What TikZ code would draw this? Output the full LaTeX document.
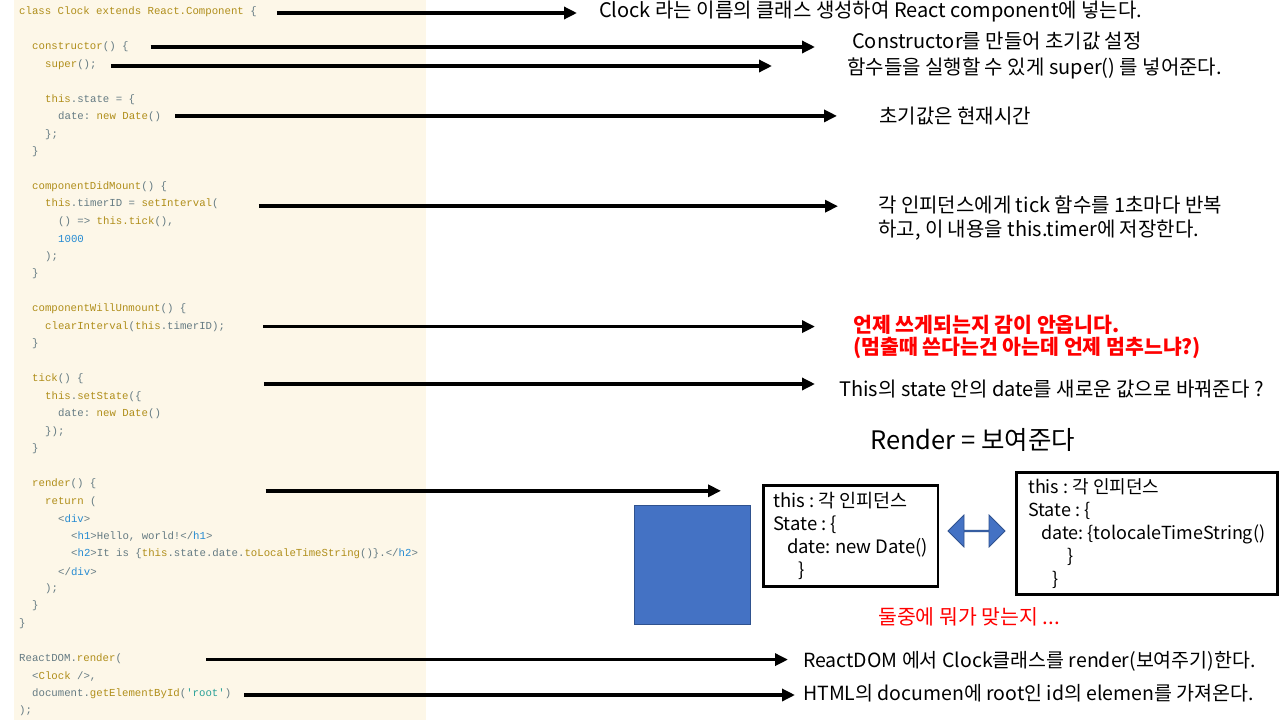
\documentclass[tikz,border=0pt]{standalone}
\usepackage{fontspec}
\setmonofont{Liberation Mono}
\newfontfamily\krfont{Noto Sans CJK KR}
\usetikzlibrary{positioning,calc,arrows.meta,shapes.arrows}

\definecolor{codebg}{HTML}{FDF7E8}
\definecolor{codegray}{HTML}{657B83}
\definecolor{codeolive}{HTML}{B08E1A}
\definecolor{codeblue}{HTML}{268BD2}
\definecolor{codecyan}{HTML}{2AA198}
\definecolor{officeblue}{HTML}{4472C4}
\definecolor{officeline}{HTML}{2F528F}

\newcommand{\kw}[1]{\textcolor{codeolive}{#1}}
\newcommand{\tg}[1]{\textcolor{codeblue}{#1}}
\newcommand{\str}[1]{\textcolor{codecyan}{#1}}

\tikzset{
  code/.style={anchor=west, inner sep=0pt, text=codegray,
    font=\ttfamily\fontsize{10.7}{12}\selectfont},
  note/.style={anchor=west, inner sep=0pt, align=left,
    font=\krfont\fontsize{20}{24}\selectfont},
  arr/.style={line width=3.5pt, -{Triangle[length=13pt,width=12pt]}},
  statebox/.style={draw, line width=2.5pt, anchor=north west, align=left},
}

\begin{document}
\begin{tikzpicture}[x=1pt,y=-1pt]

      \fill[white] (0,0) rectangle (1280,720);
      \useasboundingbox (0,0) rectangle (1280,720);
      \fill[codebg] (14,0) rectangle (426,720);

      % Code lines
      \node[code] (cls)    at (19,12)    {\kw{class Clock extends React.Component} \{};
      \node[code] (ctor)   at (32,47)    {\kw{constructor}() \{};
      \node[code] (sup)    at (45,64.4)  {\kw{super}();};
      \node[code] (state)  at (45,99.4)  {\kw{this}.state = \{};
      \node[code] (date)   at (58,116.9) {date: \kw{new Date}()};
      \node[code]          at (45,134.3) {\};};
      \node[code]          at (32,151.8) {\}};
      \node[code] (mount)  at (32,186.8) {\kw{componentDidMount}() \{};
      \node[code] (timer)  at (45,204.2) {\kw{this}.timerID = \kw{setInterval}(};
      \node[code]          at (58,221.7) {() => \kw{this.tick}(),};
      \node[code]          at (58,239.2) {\tg{1000}};
      \node[code]          at (45,256.7) {);};
      \node[code]          at (32,274.1) {\}};
      \node[code] (unmnt)  at (32,309.1) {\kw{componentWillUnmount}() \{};
      \node[code] (clear)  at (45,326.6) {\kw{clearInterval}(\kw{this}.timerID);};
      \node[code]          at (32,344)   {\}};
      \node[code] (tick)   at (32,379)   {\kw{tick}() \{};
      \node[code]          at (45,396.5) {\kw{this}.\kw{setState}(\{};
      \node[code]          at (58,413.9) {date: \kw{new Date}()};
      \node[code]          at (45,431.4) {\});};
      \node[code]          at (32,448.9) {\}};
      \node[code] (render) at (32,483.8) {\kw{render}() \{};
      \node[code]          at (45,501.3) {\kw{return} (};
      \node[code]          at (58,518.8) {<\tg{div}>};
      \node[code]          at (71,536.3) {<\tg{h1}>Hello, world!</\tg{h1}>};
      \node[code]          at (71,553.7) {<\tg{h2}>It is \{\kw{this}.state.date.\kw{toLocaleTimeString}()\}.</\tg{h2}>};
      \node[code]          at (58,571.2) {</\tg{div}>};
      \node[code]          at (45,588.7) {);};
      \node[code]          at (32,606.2) {\}};
      \node[code]          at (19,623.6) {\}};
      \node[code] (rdom)   at (19,658.6) {ReactDOM.\kw{render}(};
      \node[code]          at (32,676.1) {<\kw{Clock} />,};
      \node[code] (getel)  at (32,693.5) {document.\kw{getElementById}(\str{'root'})};
      \node[code]          at (19,711)   {);};

      % Notes
      \node[note] (cls-note)   at (599,12)  {Clock 라는 이름의 클래스 생성하여 React component에 넣는다.};
      \node[note] (ctor-note)  at (852,41)  {Constructor를 만들어 초기값 설정};
      \node[note] (sup-note)   at (847,68)  {함수들을 실행할 수 있게 super() 를 넣어준다.};
      \node[note] (date-note)  at (879,116) {초기값은 현재시간};
      \node[note] (timer-note) at (878,218) {각 인피던스에게 tick 함수를 1초마다 반복\\하고, 이 내용을 this.timer에 저장한다.};
      \node[note, text=red, font=\krfont\bfseries\fontsize{20.5}{22}\selectfont]
                  (clear-note) at (853,337) {언제 쓰게되는지 감이 안옵니다.\\(멈출때 쓴다는건 아는데 언제 멈추느냐?)};
      \node[note] (tick-note)  at (839,389) {This의 state 안의 date를 새로운 값으로 바꿔준다 ?};
      \node[note, font=\krfont\fontsize{25.5}{28}\selectfont]
                  (render-note) at (870,440) {Render = 보여준다};

      % Render picture
      \node[fill=officeblue, draw=officeline, line width=0.8pt,
            minimum width=116pt, minimum height=119pt] (dom) at (692,564.5) {};
      \node[statebox, inner xsep=10pt, minimum height=101pt,
            font=\krfont\frenchspacing\fontsize{18.5}{23}\selectfont]
                  (old-state) at (762,484)
                  {\makebox[154pt][l]{this : 각 인피던스}\\State : \{\\\hspace*{14pt}date: new Date()\\\hspace*{25pt}\}};
      \node[statebox, inner xsep=12pt, minimum height=122pt,
            font=\krfont\frenchspacing\fontsize{18}{23}\selectfont]
                  (new-state) at (1015,471)
                  {\makebox[235pt][l]{this : 각 인피던스}\\State : \{\\\hspace*{13pt}date: \{tolocaleTimeString()\\\hspace*{39pt}\}\\\hspace*{24pt}\}};
      \node[double arrow, fill=officeblue, draw=officeline, line width=0.8pt,
            minimum height=57pt, minimum width=32pt, double arrow head extend=8pt,
            inner sep=0pt] (swap) at (976.5,531) {};
      \node[note, text=red, font=\krfont\fontsize{20.5}{24}\selectfont]
                  (pick-note) at (878,617) {둘중에 뭐가 맞는지 ...};

      \node[note, font=\krfont\fontsize{19.5}{24}\selectfont]
                  (rdom-note)  at (803,661) {ReactDOM 에서 Clock클래스를 render(보여주기)한다.};
      \node[note, font=\krfont\fontsize{19.5}{24}\selectfont]
                  (getel-note) at (803,693) {HTML의 documen에 root인 id의 elemen를 가져온다.};

      % Connect the lines
      \draw[arr] ($(cls.east)+(20,1)$)     -- ($(cls.east -| cls-note.west)+(-22,1)$);
      \draw[arr] ($(ctor.east)+(22,0)$)    -- ($(ctor.east -| ctor-note.west)+(-37,0)$);
      \draw[arr] ($(sup.east)+(14,1.6)$)   -- ($(sup.east -| sup-note.west)+(-75,1.6)$);
      \draw[arr] ($(date.east)+(14,-1)$)   -- ($(date.east -| date-note.west)+(-42,-1)$);
      \draw[arr] ($(timer.east)+(40,2)$)   -- ($(timer.east -| timer-note.west)+(-40,2)$);
      \draw[arr] ($(clear.east)+(38,0)$)   -- ($(clear.east -| clear-note.west)+(-38,0)$);
      \draw[arr] ($(tick.east)+(180,5)$)   -- ($(tick.east -| tick-note.west)+(-24,5)$);
      \draw[arr] ($(render.east)+(169,7)$) -- ($(render.east -| old-state.west)+(-41,7)$);
      \draw[arr] ($(rdom.east)+(84,1)$)    -- ($(rdom.east -| rdom-note.west)+(-15,1)$);
      \draw[arr] ($(getel.east)+(13,1.5)$) -- ($(getel.east -| getel-note.west)+(-8,1.5)$);

\end{tikzpicture}
\end{document}
